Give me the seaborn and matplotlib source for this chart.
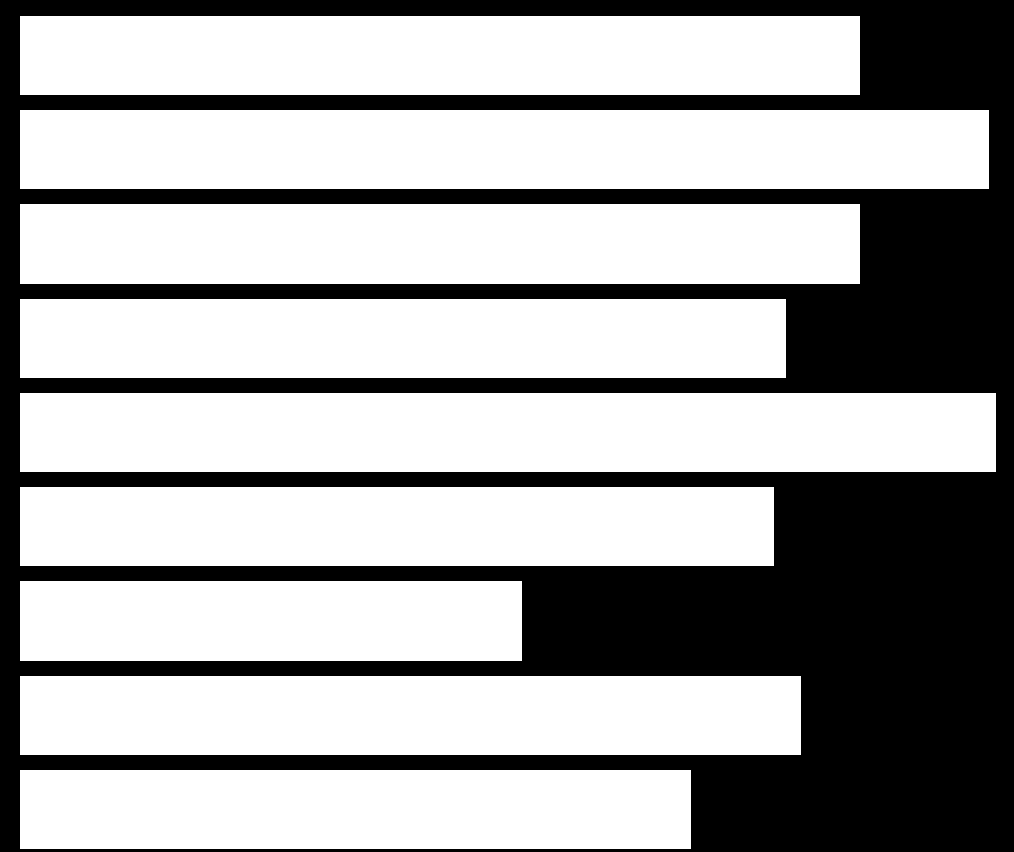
import matplotlib
matplotlib.use("Agg")
import matplotlib.pyplot as plt
import seaborn as sns

# bar lengths (pixels from the common left edge)
categories = ["A", "B", "C", "D", "E", "F", "G", "H", "I"]
values = [840, 969, 840, 766, 976, 754, 502, 781, 671]

sns.set_style("white")
fig = plt.figure(figsize=(10.14, 8.52), dpi=100, facecolor="black")
ax = fig.add_axes([0, 0, 1, 1])
ax.set_facecolor("black")

sns.barplot(x=values, y=categories, order=categories, orient="h",
            color="white", saturation=1, width=0.84, linewidth=0, ax=ax)

ax.set_xlim(-20, 994)
ax.set_ylim(8.451, -0.589)
ax.axis("off")

fig.savefig("out.png", dpi=100, facecolor="black")
